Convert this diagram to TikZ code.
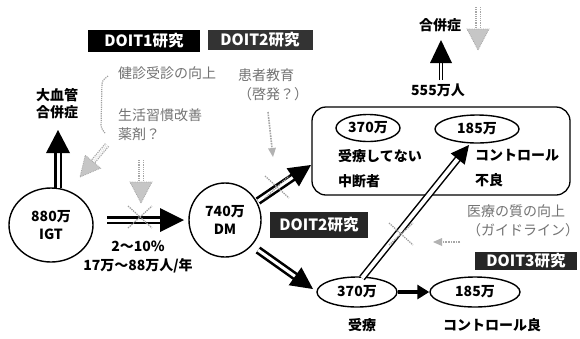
\documentclass[tikz,border=0pt]{standalone}
\usepackage{fontspec}
\setmainfont{Noto Sans CJK JP}
\usetikzlibrary{calc,arrows.meta,shapes.geometric}
\newcommand\arrhead[5]{%
  \path ($(#3)!#4!(#2)$) coordinate (hbase);
  \path[#1] (#3) -- ($(hbase)!#5!90:(#3)$) -- ($(hbase)!#5!-90:(#3)$) -- cycle;}
\newcommand\bigarrow[6]{% #1 shaft style, #2 head style, #3 from, #4 tip, #5 len, #6 half width
  \draw[#1] (#3) -- ($(#4)!#5-1pt!(#3)$);
  \arrhead{#2}{#3}{#4}{#5}{#6}}
\newcommand\crossmark[1]{%
  \draw[gray!75, line width=1.3pt, densely dotted] ($(#1)+(-12,-11)$) -- ($(#1)+(12,11)$);
  \draw[gray!75, line width=1.3pt, densely dotted] ($(#1)+(-12,11)$) -- ($(#1)+(12,-11)$);}
\begin{document}
\begin{tikzpicture}[x=1pt,y=-1pt,
  txt/.style={font=\fontsize{14}{17}\selectfont\bfseries, inner sep=0pt, align=left},
  widetxt/.style={font=\fontsize{14}{25}\selectfont\bfseries, inner sep=0pt, align=left},
  ctxt/.style={txt, align=center},
  gtxt/.style={font=\fontsize{14}{19}\selectfont, inner sep=0pt, align=left, text=black!55},
  tag/.style={fill=black, text=white, font=\fontsize{15.5}{17}\selectfont\bfseries, inner sep=0pt},
  circ/.style={ellipse, draw, line width=1.4pt, inner sep=0pt, font=\fontsize{14}{18}\selectfont\bfseries, align=center},
  dbl/.style={draw=black, line width=2.6pt, double=white, double distance=3pt},
  thindbl/.style={draw=black, line width=1.5pt, double=white, double distance=4pt},
  smalldbl/.style={draw=black, line width=1.2pt, double=white, double distance=2pt},
  blackhead/.style={fill=black},
  gdbl/.style={draw=gray!70, line width=1.2pt, double=white, double distance=3pt, densely dotted},
  grayhead/.style={fill=gray!45, draw=gray!70, line width=0.8pt, densely dotted},
  dotline/.style={draw=gray!70, line width=1.6pt, densely dotted},
  dothead/.style={fill=gray!60}]
\useasboundingbox[fill=white] (0,0) rectangle (580,338);

% tags
\node[tag, minimum width=112pt, minimum height=22pt] (doit1) at (144,41) {DOIT1研究};
\node[tag, fill=black!80, minimum width=105pt, minimum height=20pt] (doit2a) at (260,40) {DOIT2研究};
\node[tag, fill=black!85, minimum width=98pt, minimum height=26pt] (doit2b) at (319,225) {DOIT2研究};
\node[tag, fill=black!85, minimum width=102pt, minimum height=18pt] (doit3) at (526,261) {DOIT3研究};

% circles and ellipses
\node[circ, minimum width=84pt, minimum height=74pt] (igt) at (51,225) {880万\\IGT};
\node[circ, minimum width=72pt, minimum height=74pt] (dm) at (225,220) {740万\\DM};
\node[draw, rounded corners=14pt, line width=1.3pt, minimum width=258pt, minimum height=88pt] (box) at (441,151) {};
\node[circ, minimum width=64pt, minimum height=27pt] (e370a) at (368,128) {370万};
\node[circ, minimum width=84pt, minimum height=28pt] (e185a) at (477,129) {185万};
\node[circ, minimum width=80pt, minimum height=30pt] (e370b) at (357,292) {370万};
\node[circ, minimum width=90pt, minimum height=30pt] (e185b) at (475,292) {185万};

% texts
\node[ctxt] (daikekkan) at (57,104) {大血管\\合併症};
\node[gtxt, anchor=west] (kenshin) at (118,73) {健診受診の向上};
\node[gtxt, anchor=north west] (seikatsu) at (118,109) {生活習慣改善\\薬剤？};
\node[gtxt, anchor=north west] (kanja) at (238,69) {患者教育\\（啓発？）};
\node[ctxt] (gappei) at (440,25) {合併症};
\node[ctxt] (n555) at (438,90) {555万人};
\node[widetxt, anchor=north west] (chudan) at (338,149) {受療してない\\中断者};
\node[widetxt, anchor=north west] (furyo) at (475,149) {コントロール\\不良};
\node[gtxt, anchor=north west] (iryo) at (467,205) {医療の質の向上\\（ガイドライン）};
\node[ctxt] (juryo) at (362,325) {受療};
\node[ctxt] (ryo) at (492,325) {コントロール良};
\node[ctxt, font=\fontsize{14}{19}\selectfont\bfseries] (rate) at (138,257) {2〜10\%\\17万〜88万人/年};

% bracket
\draw[gray!75, densely dotted, line width=1.2pt, rounded corners=3pt] (108,76) -- (102,81) -- (101,128) -- (105,133);

% coordinates
\coordinate (a1s) at (58,188); \coordinate (a1t) at (58,130);
\coordinate (a2s) at (107,220); \coordinate (a2t) at (184,220);
\coordinate (a3s) at (258,201); \coordinate (a3t) at (311,165);
\coordinate (a4s) at (258,250); \coordinate (a4t) at (313,289);
\coordinate (a5s) at (362,278); \coordinate (a5t) at (469,145);
\coordinate (a7s) at (441,80); \coordinate (a7t) at (441,40);
\coordinate (g1s) at (478,7); \coordinate (g1t) at (478,50);
\coordinate (g2s) at (107,145); \coordinate (g2t) at (80,177);
\coordinate (g3s) at (141,160); \coordinate (g3t) at (141,203);
\coordinate (d1s) at (268,112); \coordinate (d1t) at (273,157);
\coordinate (d2s) at (460,242); \coordinate (d2t) at (433,242);

% black arrows
\bigarrow{dbl}{blackhead}{a1s}{a1t}{23pt}{12pt}
\bigarrow{dbl}{blackhead}{a2s}{a2t}{24pt}{12pt}
\bigarrow{dbl}{blackhead}{a3s}{a3t}{22pt}{11pt}
\bigarrow{dbl}{blackhead}{a4s}{a4t}{22pt}{11pt}
\bigarrow{thindbl}{blackhead}{a5s}{a5t}{18pt}{9pt}
\bigarrow{smalldbl}{blackhead}{a7s}{a7t}{23pt}{11pt}
\draw[line width=3.5pt, -{Triangle[length=12pt,width=14pt]}] (e370b.east) -- (e185b.west);

% gray arrows
\bigarrow{gdbl}{grayhead}{g1s}{g1t}{21pt}{11pt}
\bigarrow{gdbl}{grayhead}{g2s}{g2t}{20pt}{10pt}
\bigarrow{gdbl}{grayhead}{g3s}{g3t}{21pt}{11pt}
\bigarrow{dotline}{dothead}{d1s}{d1t}{9pt}{4pt}
\bigarrow{dotline}{dothead}{d2s}{d2t}{9pt}{4pt}

% crosses
\coordinate (x1) at (140,217); \coordinate (x2) at (277,187); \coordinate (x3) at (401,234);
\crossmark{x1}
\crossmark{x2}
\crossmark{x3}
\end{tikzpicture}
\end{document}
